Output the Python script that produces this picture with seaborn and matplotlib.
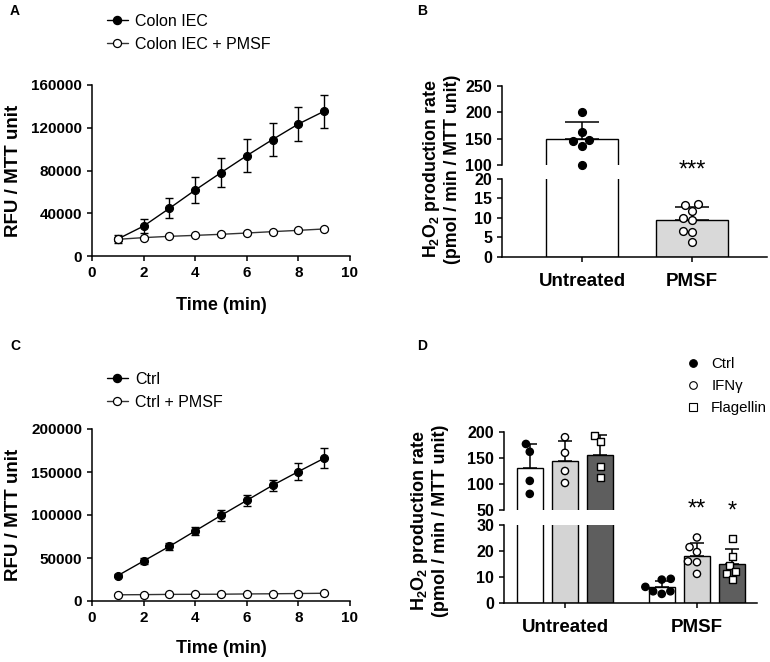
import numpy as np
import pandas as pd
import matplotlib
matplotlib.use("Agg")
import matplotlib.pyplot as plt
import seaborn as sns
from matplotlib.lines import Line2D

# ---------------- data ----------------
time_min = [1, 2, 3, 4, 5, 6, 7, 8, 9]

a_iec = [15900, 28000, 44600, 61700, 78000, 93900, 109000, 123500, 135500]
a_iec_err = [4000, 6700, 9400, 12300, 13700, 15400, 15300, 16000, 15600]
a_pmsf = [15600, 17200, 18400, 19300, 20300, 21500, 22800, 24000, 25300]
a_pmsf_err = [1200, 1000, 1000, 900, 900, 900, 1000, 1000, 1200]

c_ctrl = [29500, 46500, 63500, 81500, 99500, 117000, 134500, 150500, 166000]
c_ctrl_err = [1500, 3000, 4300, 5000, 6000, 6000, 6500, 9500, 11500]
c_pmsf = [7200, 7400, 7700, 7800, 7900, 8200, 8400, 8700, 9000]
c_pmsf_err = [500, 500, 500, 500, 500, 500, 500, 500, 500]

b_groups = ["Untreated", "PMSF"]
b_untreated = [201, 162, 148, 145, 137, 100]
b_pmsf = [13.3, 13.7, 11.8, 9.9, 9.4, 6.7, 6.5, 3.9]

d_groups = ["Untreated", "PMSF"]
d_stims = ["Ctrl", "IFN\u03b3", "Flagellin"]
d_untr_ctrl = [177, 162, 106, 81]
d_untr_ifn = [190, 160, 125, 102]
d_untr_flag = [194, 181, 133, 113]
d_pmsf_ctrl = [9.0, 9.3, 6.2, 4.5, 3.5, 4.5]
d_pmsf_ifn = [25.2, 21.5, 19.6, 16.0, 15.7, 11.2]
d_pmsf_flag = [24.8, 18.0, 14.5, 12.0, 11.4, 8.9]

# ---------------- style ----------------
sns.set_theme(style="ticks")
plt.rcParams["font.family"] = ["Liberation Sans", "DejaVu Sans"]
plt.rcParams.update({
    "mathtext.fontset": "custom",
    "mathtext.rm": "Liberation Sans",
    "mathtext.bf": "Liberation Sans:bold",
    "axes.linewidth": 1.1,
    "xtick.major.width": 1.1, "ytick.major.width": 1.1,
    "xtick.major.size": 3.6, "ytick.major.size": 3.6,
    "text.color": "black", "axes.labelcolor": "black",
    "xtick.color": "black", "ytick.color": "black",
    "axes.edgecolor": "black",
})

W, H = 770, 662
fig = plt.figure(figsize=(W / 100, H / 100), dpi=100)


def px_axes(l, t, r, b):
    return fig.add_axes([l / W, 1 - b / H, (r - l) / W, (b - t) / H])


def style_ticks(ax, size):
    for lab in ax.get_xticklabels() + ax.get_yticklabels():
        lab.set_fontweight("bold")
        lab.set_fontsize(size)


def unclip_points(ax, n_before):
    for coll in ax.collections[n_before:]:
        offs = np.asarray(coll.get_offsets())
        if offs.size > 0 and np.all(np.isfinite(offs)):
            coll.set_clip_on(False)


# ---------------- line panels (A, C) ----------------
def line_panel(ax, y1, e1, y2, e2, yticks, lab1, lab2, legend_y):
    ax.errorbar(time_min, y1, yerr=e1, fmt="none", ecolor="black",
                elinewidth=1, capsize=2.7, capthick=1, zorder=2)
    ax.errorbar(time_min, y2, yerr=e2, fmt="none", ecolor="black",
                elinewidth=1, capsize=2.7, capthick=1, zorder=2)
    sns.lineplot(x=time_min, y=y1, ax=ax, color="black", lw=1, marker="o",
                 markersize=5.8, markerfacecolor="black", markeredgecolor="black",
                 zorder=3)
    sns.lineplot(x=time_min, y=y2, ax=ax, color="#333333", lw=1, marker="o",
                 markersize=5.8, markerfacecolor="white", markeredgecolor="black",
                 markeredgewidth=0.9, zorder=4)
    ax.set_xlim(0, 10)
    ax.set_ylim(0, yticks[-1])
    ax.set_xticks([0, 2, 4, 6, 8, 10])
    ax.set_yticks(yticks)
    ax.set_yticklabels([str(v) for v in yticks])
    sns.despine(ax=ax)
    style_ticks(ax, 11)
    ax.set_xlabel("Time (min)", fontsize=13, fontweight="bold")
    ax.set_ylabel("RFU / MTT unit", fontsize=13.5, fontweight="bold")
    ax.xaxis.set_label_coords(0.5, -0.24)
    ax.yaxis.set_label_coords(-0.272, 0.5)
    handles = [
        Line2D([], [], color="black", lw=1, marker="o", markersize=5.8,
               markerfacecolor="black", markeredgecolor="black"),
        Line2D([], [], color="#333333", lw=1, marker="o", markersize=5.8,
               markerfacecolor="white", markeredgecolor="black",
               markeredgewidth=0.9),
    ]
    fig.legend(handles, [lab1, lab2], loc="center left",
               bbox_to_anchor=(107 / W, 1 - legend_y / H), frameon=False,
               fontsize=11.5, handlelength=1.3, handletextpad=0.45,
               labelspacing=0.5, borderpad=0, borderaxespad=0)


axA = px_axes(92, 85, 350, 256)
line_panel(axA, a_iec, a_iec_err, a_pmsf, a_pmsf_err,
           [0, 40000, 80000, 120000, 160000], "Colon IEC", "Colon IEC + PMSF", 33)

axC = px_axes(92, 429, 350, 601)
line_panel(axC, c_ctrl, c_ctrl_err, c_pmsf, c_pmsf_err,
           [0, 50000, 100000, 150000, 200000], "Ctrl", "Ctrl + PMSF", 391)
axC.xaxis.set_label_coords(0.5, -0.225)

ylab_txt = "H$_\\mathbf{2}$O$_\\mathbf{2}$ production rate\n(pmol / min / MTT unit)"

# ---------------- panel B (broken axis) ----------------
dfB = pd.DataFrame({
    "group": ["Untreated"] * len(b_untreated) + ["PMSF"] * len(b_pmsf),
    "rate": b_untreated + b_pmsf,
})
b_pal = {"Untreated": "white", "PMSF": "#d9d9d9"}
b_stats = dfB.groupby("group")["rate"].agg(["mean", "std"]).reindex(b_groups)

axBu = px_axes(502, 86, 767, 165)
axBl = px_axes(502, 179, 767, 257)
for ax, sub_group in ((axBu, "Untreated"), (axBl, "PMSF")):
    sns.barplot(data=dfB, x="group", y="rate", hue="group", order=b_groups,
                hue_order=b_groups, palette=b_pal, errorbar=None, width=0.65,
                edgecolor="black", linewidth=1, legend=False, ax=ax, zorder=1)
    ax.errorbar(np.arange(len(b_groups)), b_stats["mean"],
                yerr=[np.zeros(len(b_groups)), b_stats["std"]], fmt="none",
                ecolor="black", elinewidth=1.1, capsize=12, capthick=1.1,
                zorder=2)
    sub = dfB[dfB["group"] == sub_group]
    face = "black" if sub_group == "Untreated" else "white"
    n_before = len(ax.collections)
    sns.swarmplot(data=sub, x="group", y="rate", order=b_groups, color=face,
                  edgecolor="black", linewidth=1, size=5.6, ax=ax, zorder=3)
    unclip_points(ax, n_before)
    ax.set_xlim(-0.727, 1.68)
    ax.set_xlabel("")
    ax.set_ylabel("")

axBu.set_ylim(100, 250)
axBu.set_yticks([100, 150, 200, 250])
axBu.spines[["top", "right", "bottom"]].set_visible(False)
axBu.tick_params(axis="x", bottom=False, labelbottom=False)
axBl.set_ylim(0, 20)
axBl.set_yticks([0, 5, 10, 15, 20])
axBl.spines[["top", "right"]].set_visible(False)
axBl.tick_params(axis="x", pad=8)
style_ticks(axBu, 11.5)
style_ticks(axBl, 11.5)
for lab in axBl.get_xticklabels():
    lab.set_fontsize(13.5)
axBl.text(1, 22.2, "***", ha="center", va="center", fontsize=17,
          clip_on=False)
fig.text(441 / W, 1 - 169 / H, ylab_txt,
         rotation=90, ha="center", va="center", fontsize=12.8,
         fontweight="bold", multialignment="center", linespacing=1.1)

# ---------------- panel D (broken axis, grouped) ----------------
rows = []
for grp, stim, vals in (
    ("Untreated", d_stims[0], d_untr_ctrl), ("Untreated", d_stims[1], d_untr_ifn),
    ("Untreated", d_stims[2], d_untr_flag), ("PMSF", d_stims[0], d_pmsf_ctrl),
    ("PMSF", d_stims[1], d_pmsf_ifn), ("PMSF", d_stims[2], d_pmsf_flag),
):
    for v in vals:
        rows.append({"group": grp, "stim": stim, "rate": v})
dfD = pd.DataFrame(rows)
d_pal = {d_stims[0]: "white", d_stims[1]: "#d4d4d4", d_stims[2]: "#5e5e5e"}
d_face = {d_stims[0]: "black", d_stims[1]: "white", d_stims[2]: "white"}
d_marker = {d_stims[0]: "o", d_stims[1]: "o", d_stims[2]: "s"}
d_stats = dfD.groupby(["group", "stim"])["rate"].agg(["mean", "std"])
dodge_w = 0.8 / len(d_stims)

axDu = px_axes(504, 432, 757, 510)
axDl = px_axes(504, 525, 757, 603)
for ax, sub_group in ((axDu, "Untreated"), (axDl, "PMSF")):
    sns.barplot(data=dfD, x="group", y="rate", hue="stim", order=d_groups,
                hue_order=d_stims, palette=d_pal, errorbar=None, gap=0.25,
                edgecolor="black", linewidth=1, legend=False, ax=ax, zorder=1)
    for j, stim in enumerate(d_stims):
        xs = np.arange(len(d_groups)) + (j - (len(d_stims) - 1) / 2) * dodge_w
        means = [d_stats.loc[(g, stim), "mean"] for g in d_groups]
        sds = [d_stats.loc[(g, stim), "std"] for g in d_groups]
        ax.errorbar(xs, means, yerr=[np.zeros(len(sds)), sds], fmt="none",
                    ecolor="black", elinewidth=1.1, capsize=5, capthick=1.1,
                    zorder=2)
    for stim in d_stims:
        sub = dfD[(dfD["group"] == sub_group) & (dfD["stim"] == stim)]
        n_before = len(ax.collections)
        sns.swarmplot(data=sub, x="group", y="rate", hue="stim",
                      order=d_groups, hue_order=d_stims, dodge=True,
                      palette={s: d_face[stim] for s in d_stims},
                      marker=d_marker[stim], edgecolor="black", linewidth=1,
                      size=5.2, legend=False, ax=ax, zorder=3)
        unclip_points(ax, n_before)
    ax.set_xlim(-0.462, 1.455)
    ax.set_xlabel("")
    ax.set_ylabel("")

axDu.set_ylim(50, 200)
axDu.set_yticks([50, 100, 150, 200])
axDu.spines[["top", "right", "bottom"]].set_visible(False)
axDu.tick_params(axis="x", bottom=False, labelbottom=False)
axDl.set_ylim(0, 30)
axDl.set_yticks([0, 10, 20, 30])
axDl.spines[["top", "right"]].set_visible(False)
axDl.tick_params(axis="x", pad=8)
style_ticks(axDu, 11.5)
style_ticks(axDl, 11.5)
for lab in axDl.get_xticklabels():
    lab.set_fontsize(13.5)
axDl.text(1, 36.0, "**", ha="center", va="center", fontsize=17, clip_on=False)
axDl.text(1 + dodge_w, 35.0, "*", ha="center", va="center", fontsize=17,
          clip_on=False)
fig.text(429 / W, 1 - 521 / H, ylab_txt,
         rotation=90, ha="center", va="center", fontsize=13,
         fontweight="bold", multialignment="center", linespacing=1.1)

d_handles = [
    Line2D([], [], ls="none", marker=d_marker[s], markersize=5.5,
           markerfacecolor=d_face[s], markeredgecolor="black",
           markeredgewidth=0.8)
    for s in d_stims
]
fig.legend(d_handles, d_stims, loc="center left",
           bbox_to_anchor=(685 / W, 1 - 386 / H), frameon=False,
           fontsize=10.8, handlelength=1.0, handletextpad=0.75,
           labelspacing=0.55, borderpad=0, borderaxespad=0)

# ---------------- panel letters ----------------
for letter, x, y in (("A", 10, 11), ("B", 417, 11), ("C", 10, 346), ("D", 417, 346)):
    fig.text(x / W, 1 - y / H, letter, fontsize=10, fontweight="bold",
             ha="left", va="center")

fig.savefig("out.png", dpi=100)
